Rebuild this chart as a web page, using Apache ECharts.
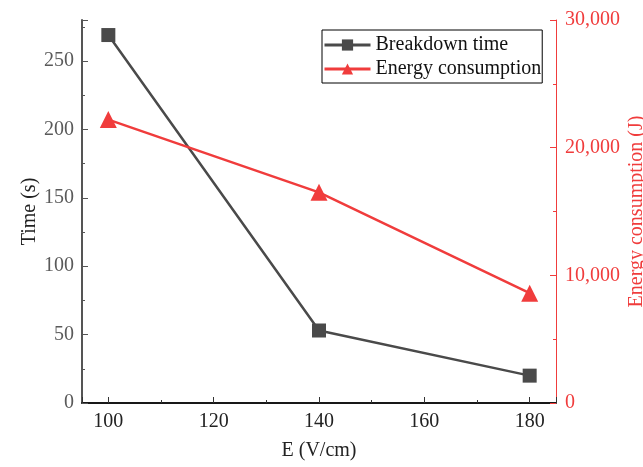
<!DOCTYPE html>
<html><head><meta charset="utf-8">
<script src="https://cdn.jsdelivr.net/npm/echarts@6/dist/echarts.min.js"></script>
<style>html,body{margin:0;padding:0;background:#fff}#c{width:643px;height:467px}</style>
</head><body><div id="c"></div>
<script>
const fieldE = [100, 140, 180];
const breakdownTime = [269, 53, 20];
const energyConsumption = [22200, 16500, 8600];
const xTicks = [100, 120, 140, 160, 180];
const leftTicks = [0, 50, 100, 150, 200, 250];
const rightTicks = [0, 10000, 20000, 30000];

const GRAY = '#4a4a4a';
const RED = '#f03c3c';
const FONT = 'Liberation Serif';
const FS = 20;

const chart = echarts.init(document.getElementById('c'));
chart.setOption({
  animation: false,
  textStyle: { fontFamily: FONT },
  grid: { left: 82, right: 87, top: 20, bottom: 64, containLabel: false, outerBoundsMode: 'none' },
  legend: {
    orient: 'vertical', left: 322, top: 30,
    padding: [5, 1, 4, 1], itemGap: 4,
    itemWidth: 46, itemHeight: 14,
    borderColor: '#000', borderWidth: 1,
    lineStyle: { width: 3 },
    textStyle: { fontFamily: FONT, fontSize: FS, color: '#111' },
    data: ['Breakdown time', 'Energy consumption']
  },
  xAxis: [{
    type: 'value', min: 95, max: 185,
    name: 'E (V/cm)', nameLocation: 'middle', nameGap: 38, nameMoveOverlap: false,
    nameTextStyle: { fontFamily: FONT, fontSize: FS, color: '#222' },
    axisLine: { lineStyle: { color: '#333', width: 1.5 } },
    axisTick: { inside: true, length: 6, lineStyle: { color: '#333' } },
    minorTick: { show: true, splitNumber: 2, length: 3, lineStyle: { color: '#333' } },
    axisLabel: { fontFamily: FONT, fontSize: FS, color: '#222', margin: 9,
      formatter: v => xTicks.includes(v) ? String(v) : '' },
    splitLine: { show: false }
  }, {
    type: 'value', min: 95, max: 185, position: 'top',
    axisLine: { show: true, lineStyle: { color: '#000', width: 1.5 } },
    axisTick: { show: false }, axisLabel: { show: false }, splitLine: { show: false }
  }],
  yAxis: [{
    type: 'value', min: 0, max: 280,
    name: 'Time (s)', nameLocation: 'middle', nameGap: 42, nameRotate: 90, nameMoveOverlap: false,
    nameTextStyle: { fontFamily: FONT, fontSize: FS, color: '#222' },
    axisLine: { show: true, lineStyle: { color: '#555', width: 2 } },
    axisTick: { inside: true, length: 6, lineStyle: { color: '#555' } },
    minorTick: { show: true, splitNumber: 2, length: 3, lineStyle: { color: '#555' } },
    axisLabel: { fontFamily: FONT, fontSize: FS, color: '#5a5a5a', margin: 8,
      formatter: v => leftTicks.includes(v) ? String(v) : '' },
    splitLine: { show: false }
  }, {
    type: 'value', min: 0, max: 30000, interval: 10000, position: 'right',
    name: 'Energy consumption (J)', nameLocation: 'middle', nameGap: 71, nameRotate: 90, nameMoveOverlap: false,
    nameTextStyle: { fontFamily: FONT, fontSize: FS, color: RED },
    axisLine: { show: true, lineStyle: { color: RED, width: 1 } },
    axisTick: { inside: true, length: 6, lineStyle: { color: RED } },
    minorTick: { show: true, splitNumber: 2, length: 3, lineStyle: { color: RED } },
    axisLabel: { fontFamily: FONT, fontSize: FS, color: RED, margin: 9,
      formatter: v => rightTicks.includes(v) ? v.toLocaleString('en-US') : '' },
    splitLine: { show: false }
  }],
  series: [{
    name: 'Breakdown time', type: 'line', yAxisIndex: 0,
    data: fieldE.map((x, i) => [x, breakdownTime[i]]),
    symbol: 'rect', symbolSize: 14,
    lineStyle: { color: GRAY, width: 2.5 },
    itemStyle: { color: GRAY }
  }, {
    name: 'Energy consumption', type: 'line', yAxisIndex: 1,
    data: fieldE.map((x, i) => [x, energyConsumption[i]]),
    symbol: 'triangle', symbolSize: 17,
    lineStyle: { color: RED, width: 2.5 },
    itemStyle: { color: RED }
  }]
});
</script></body></html>
